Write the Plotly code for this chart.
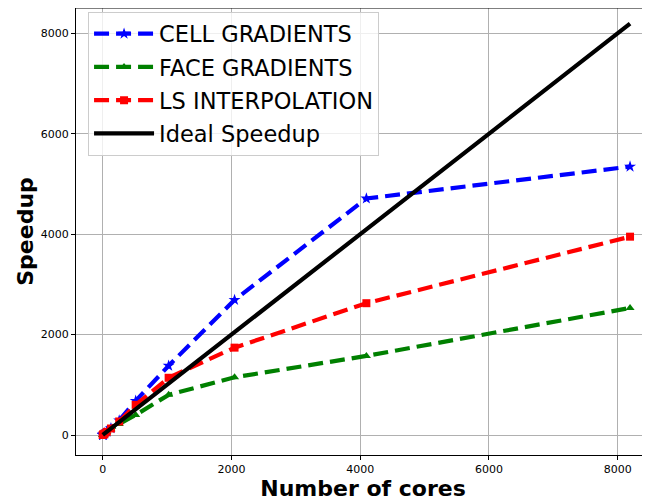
import plotly.graph_objects as go

cores = [1, 2, 4, 8, 16, 32, 64, 128, 256, 512, 1024, 2048, 4096, 8192]
cell_gradients = [1, 2, 4, 8, 16, 32, 64, 135, 290, 680, 1380, 2690, 4710, 5345]
face_gradients = [1, 2, 4, 8, 16, 31, 60, 115, 220, 400, 800, 1150, 1575, 2530]
ls_interpolation = [1, 2, 4, 8, 16, 32, 63, 130, 270, 600, 1140, 1740, 2625, 3950]
ideal_speedup = cores

x_ticks = [0, 2000, 4000, 6000, 8000]
y_ticks = [0, 2000, 4000, 6000, 8000]

DASH = "15px,7px"
LW = 4.2

fig = go.Figure()
fig.add_trace(go.Scatter(x=cores, y=cell_gradients, name="CELL GRADIENTS", mode="lines+markers",
                         line=dict(color="#0000ff", width=LW, dash=DASH),
                         marker=dict(symbol="star", size=9, color="#0000ff"), legendgroup="a"))
fig.add_trace(go.Scatter(x=cores, y=face_gradients, name="FACE GRADIENTS", mode="lines+markers",
                         line=dict(color="#008000", width=LW, dash=DASH),
                         marker=dict(symbol="triangle-up", size=8, color="#008000"), legendgroup="b"))
fig.add_trace(go.Scatter(x=cores, y=ls_interpolation, name="LS INTERPOLATION", mode="lines+markers",
                         line=dict(color="#ff0000", width=LW, dash=DASH),
                         marker=dict(symbol="square", size=8, color="#ff0000"), legendgroup="c"))
fig.add_trace(go.Scatter(x=cores, y=ideal_speedup, name="Ideal Speedup", mode="lines",
                         line=dict(color="#000000", width=LW), legendgroup="d"))

axis_common = dict(showgrid=True, gridcolor="#b0b0b0", gridwidth=1, zeroline=False,
                   showline=True, linecolor="#000000", linewidth=1,
                   ticks="outside", ticklen=4, tickcolor="#000000", automargin=False,
                   tickfont=dict(family="DejaVu Sans", size=11, color="#000000"))

fig.update_xaxes(**axis_common, range=[-415, 8502], tickvals=x_ticks, mirror=False,
                 title=dict(text="<b>Number of cores</b>", font=dict(family="DejaVu Sans", size=22, color="#000000"), standoff=2))
fig.update_yaxes(**axis_common, range=[-398, 8504], tickvals=y_ticks,
                 title=dict(text="<b>Speedup</b>", font=dict(family="DejaVu Sans", size=22, color="#000000"), standoff=1))

# the page places the figure 8px from the window's top-left corner
fig.update_layout(
    width=642, height=496,
    margin=dict(l=68, r=0, t=0, b=49),
    paper_bgcolor="white", plot_bgcolor="white",
    showlegend=True,
    legend=dict(x=0.021, y=0.992, xanchor="left", yanchor="top",
                bgcolor="rgba(255,255,255,0.8)", bordercolor="#cccccc", borderwidth=1,
                font=dict(family="DejaVu Sans", size=22.5, color="#000000"),
                tracegroupgap=1, itemwidth=60),
    shapes=[dict(type="line", xref="paper", yref="paper", x0=0, x1=1, y0=1, y1=1,
                 line=dict(color="#000000", width=1))],
)

fig.write_html("out.html")
